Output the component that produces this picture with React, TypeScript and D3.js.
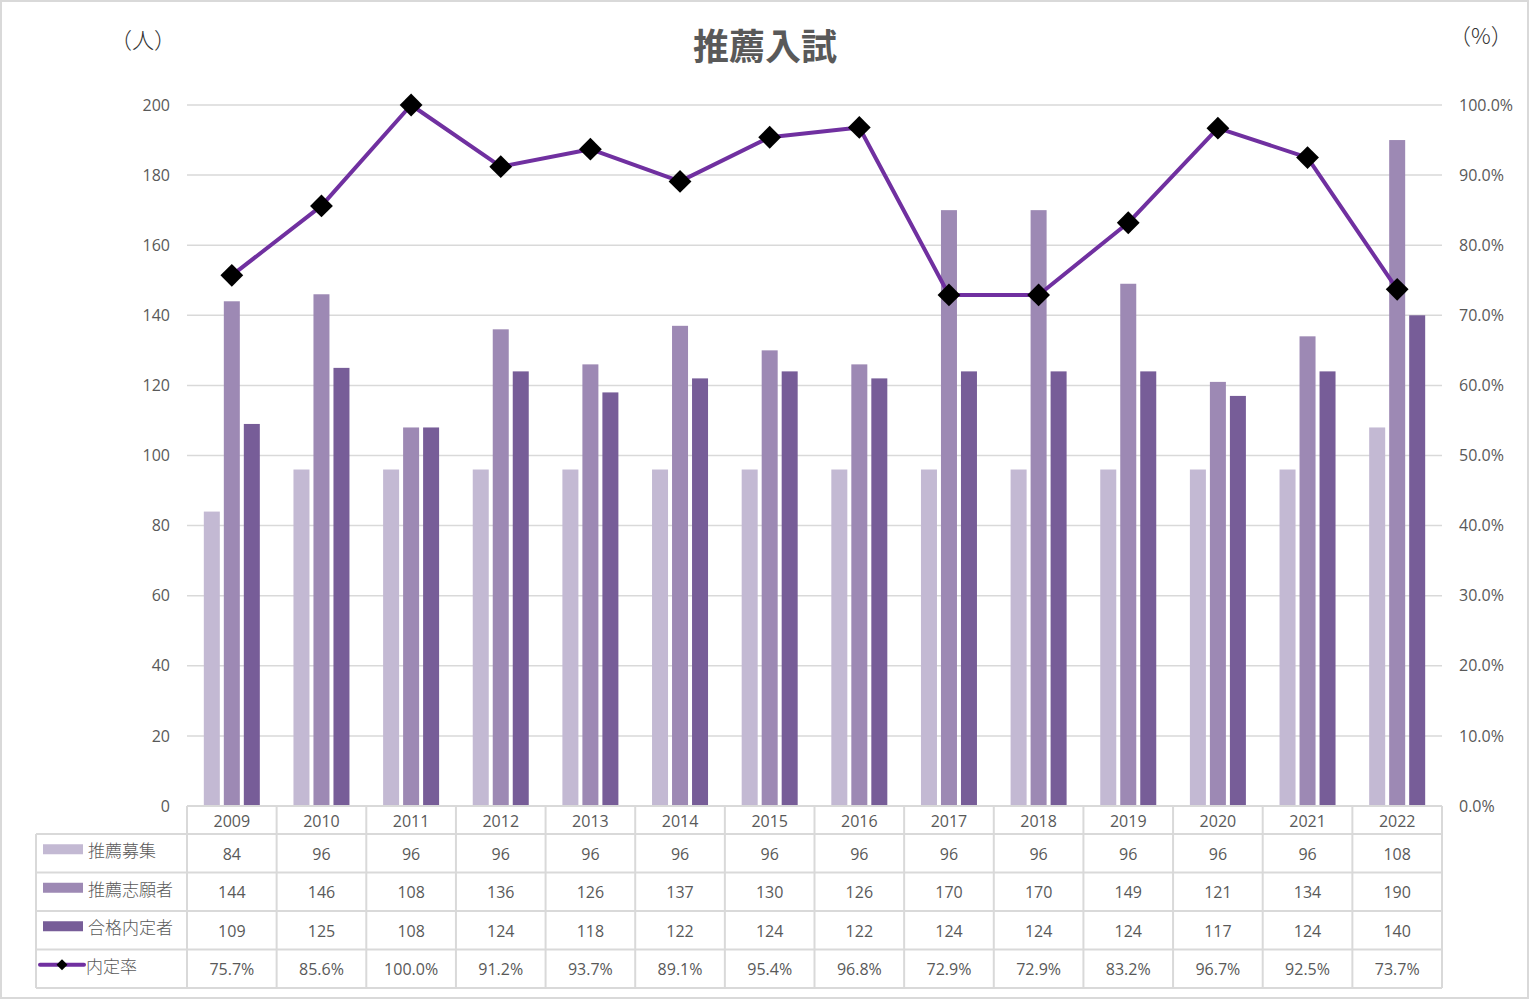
import React, { useEffect, useRef } from 'react';
import * as d3 from 'd3';

const years = ['2009', '2010', '2011', '2012', '2013', '2014', '2015', '2016', '2017', '2018', '2019', '2020', '2021', '2022'];
const boshu = [84, 96, 96, 96, 96, 96, 96, 96, 96, 96, 96, 96, 96, 108];
const shigan = [144, 146, 108, 136, 126, 137, 130, 126, 170, 170, 149, 121, 134, 190];
const gokaku = [109, 125, 108, 124, 118, 122, 124, 122, 124, 124, 124, 117, 124, 140];
const naitei = [75.7, 85.6, 100.0, 91.2, 93.7, 89.1, 95.4, 96.8, 72.9, 72.9, 83.2, 96.7, 92.5, 73.7];
const leftTicks = [0, 20, 40, 60, 80, 100, 120, 140, 160, 180, 200];
const rightTicks = [0, 10, 20, 30, 40, 50, 60, 70, 80, 90, 100];

const barSeries = [
  { name: '推薦募集', values: boshu, color: '#C3B9D3' },
  { name: '推薦志願者', values: shigan, color: '#9D89B4' },
  { name: '合格内定者', values: gokaku, color: '#775D98' },
];
const lineName = '内定率';

const FONT = "'Open Sans', 'Noto Sans CJK JP', sans-serif";
const CJK = "'Noto Sans CJK JP', sans-serif";
const GRID = '#D9D9D9';
const TEXT = '#595959';

export default function App() {
  const ref = useRef<SVGSVGElement>(null);

  useEffect(() => {
    const width = 1530;
    const height = 1000;
    const margin = { top: 105, bottom: 194, left: 187, right: 88 };
    const svg = d3.select(ref.current);
    svg.selectAll('*').remove();

    svg
      .append('rect')
      .attr('x', 1)
      .attr('y', 1)
      .attr('width', width - 3)
      .attr('height', height - 3)
      .attr('fill', '#fff')
      .attr('stroke', GRID)
      .attr('stroke-width', 2);

    const plotBottom = height - margin.bottom;

    const xScale = d3
      .scaleBand()
      .domain(years)
      .range([margin.left, width - margin.right])
      .padding(0);

    const yScale = d3.scaleLinear().domain([0, 200]).range([plotBottom, margin.top]);
    const y2Scale = d3.scaleLinear().domain([0, 100]).range([plotBottom, margin.top]);

    // gridlines
    svg
      .append('g')
      .selectAll('line')
      .data(leftTicks)
      .enter()
      .append('line')
      .attr('x1', margin.left)
      .attr('x2', width - margin.right)
      .attr('y1', (d) => yScale(d))
      .attr('y2', (d) => yScale(d))
      .attr('stroke', GRID)
      .attr('stroke-width', 1.5);

    // left axis labels
    svg
      .append('g')
      .selectAll('text')
      .data(leftTicks)
      .enter()
      .append('text')
      .attr('x', 170)
      .attr('y', (d) => yScale(d))
      .attr('dy', '0.35em')
      .attr('text-anchor', 'end')
      .attr('font-size', 16)
      .attr('font-family', FONT)
      .attr('fill', TEXT)
      .text((d) => d);

    // right axis labels
    svg
      .append('g')
      .selectAll('text')
      .data(rightTicks)
      .enter()
      .append('text')
      .attr('x', 1459)
      .attr('y', (d) => y2Scale(d))
      .attr('dy', '0.35em')
      .attr('font-size', 16)
      .attr('font-family', FONT)
      .attr('fill', TEXT)
      .text((d) => d.toFixed(1) + '%');

    // units
    svg
      .append('text')
      .attr('x', 176)
      .attr('y', 48)
      .attr('text-anchor', 'end')
      .attr('font-size', 22)
      .attr('font-weight', 300)
      .attr('font-family', CJK)
      .attr('fill', '#333')
      .text('（人）');
    svg
      .append('text')
      .attr('x', 1449)
      .attr('y', 44)
      .attr('font-size', 22)
      .attr('font-weight', 300)
      .attr('font-family', CJK)
      .attr('fill', '#333')
      .text('（%）');

    // title
    svg
      .append('text')
      .attr('x', 765)
      .attr('y', 60)
      .attr('text-anchor', 'middle')
      .attr('font-size', 36)
      .attr('font-weight', 'bold')
      .attr('font-family', CJK)
      .attr('fill', TEXT)
      .text('推薦入試');

    // bars
    const barW = 16;
    const barGap = 4;
    const inner = d3
      .scaleBand()
      .domain(barSeries.map((s) => s.name))
      .range([0, barW * 3 + barGap * 2])
      .paddingInner(barGap / (barW + barGap));

    barSeries.forEach((s) => {
      svg
        .append('g')
        .selectAll('rect')
        .data(s.values)
        .enter()
        .append('rect')
        .attr(
          'x',
          (d, i) =>
            (xScale(years[i]) as number) +
            xScale.bandwidth() / 2 -
            (barW * 3 + barGap * 2) / 2 +
            (inner(s.name) as number)
        )
        .attr('y', (d) => yScale(d))
        .attr('width', inner.bandwidth())
        .attr('height', (d) => plotBottom - yScale(d))
        .attr('fill', s.color);
    });

    // line
    const cx = (i: number) => (xScale(years[i]) as number) + xScale.bandwidth() / 2;
    const line = d3
      .line<number>()
      .x((d, i) => cx(i))
      .y((d) => y2Scale(d));

    svg
      .append('path')
      .datum(naitei)
      .attr('d', line)
      .attr('fill', 'none')
      .attr('stroke', '#7030A0')
      .attr('stroke-width', 4)
      .attr('stroke-linejoin', 'round');

    const diamond = d3.symbol().type(d3.symbolSquare).size(260);
    svg
      .append('g')
      .selectAll('path')
      .data(naitei)
      .enter()
      .append('path')
      .attr('d', diamond)
      .attr('transform', (d, i) => `translate(${cx(i)}, ${y2Scale(d)}) rotate(45)`)
      .attr('fill', '#000');

    // data table
    const rowH = [28, 38.5, 38.5, 38.5, 38.5];
    const rowY: number[] = [];
    let acc = plotBottom;
    for (const h of rowH) {
      rowY.push(acc);
      acc += h;
    }
    const tableBottom = acc;
    const tableLeft = 36;
    const table = svg.append('g');

    // horizontal lines
    table
      .append('line')
      .attr('x1', margin.left)
      .attr('x2', width - margin.right)
      .attr('y1', plotBottom)
      .attr('y2', plotBottom)
      .attr('stroke', GRID)
      .attr('stroke-width', 2);
    rowY.slice(1).concat([tableBottom]).forEach((y) => {
      table
        .append('line')
        .attr('x1', tableLeft)
        .attr('x2', width - margin.right)
        .attr('y1', y)
        .attr('y2', y)
        .attr('stroke', GRID)
        .attr('stroke-width', 2);
    });

    // vertical lines
    const xs = years.map((y) => xScale(y) as number).concat([width - margin.right]);
    xs.forEach((x) => {
      table
        .append('line')
        .attr('x1', x)
        .attr('x2', x)
        .attr('y1', plotBottom)
        .attr('y2', tableBottom)
        .attr('stroke', GRID)
        .attr('stroke-width', 2);
    });
    table
      .append('line')
      .attr('x1', tableLeft)
      .attr('x2', tableLeft)
      .attr('y1', rowY[1])
      .attr('y2', tableBottom)
      .attr('stroke', GRID)
      .attr('stroke-width', 2);

    // header years
    table
      .selectAll('text.year')
      .data(years)
      .enter()
      .append('text')
      .attr('class', 'year')
      .attr('x', (d) => (xScale(d) as number) + xScale.bandwidth() / 2)
      .attr('y', rowY[0] + rowH[0] / 2 + 1)
      .attr('dy', '0.35em')
      .attr('text-anchor', 'middle')
      .attr('font-size', 16)
      .attr('font-family', FONT)
      .attr('fill', TEXT)
      .text((d) => d);

    const rows = [
      ...barSeries.map((s) => ({ name: s.name, color: s.color, texts: s.values.map(String), isLine: false })),
      { name: lineName, color: '#7030A0', texts: naitei.map((v) => v.toFixed(1) + '%'), isLine: true },
    ];

    rows.forEach((r, ri) => {
      const y0 = rowY[ri + 1];
      const mid = y0 + rowH[ri + 1] / 2;
      table
        .selectAll(`text.v${ri}`)
        .data(r.texts)
        .enter()
        .append('text')
        .attr('class', `v${ri}`)
        .attr('x', (d, i) => cx(i))
        .attr('y', mid + 1)
        .attr('dy', '0.35em')
        .attr('text-anchor', 'middle')
        .attr('font-size', 16)
        .attr('font-family', FONT)
        .attr('fill', TEXT)
        .text((d) => d);

      if (r.isLine) {
        table
          .append('line')
          .attr('x1', 40)
          .attr('x2', 84)
          .attr('y1', mid - 4)
          .attr('y2', mid - 4)
          .attr('stroke', r.color)
          .attr('stroke-width', 4)
          .attr('stroke-linecap', 'round');
        table
          .append('path')
          .attr('d', d3.symbol().type(d3.symbolSquare).size(60))
          .attr('transform', `translate(62, ${mid - 4}) rotate(45)`)
          .attr('fill', '#000');
      } else {
        table
          .append('rect')
          .attr('x', 43)
          .attr('y', mid - 9)
          .attr('width', 40)
          .attr('height', 10)
          .attr('fill', r.color);
      }
      table
        .append('text')
        .attr('x', r.isLine ? 86 : 88)
        .attr('y', mid - 2)
        .attr('dy', '0.35em')
        .attr('font-size', 17)
        .attr('font-weight', 300)
        .attr('font-family', CJK)
        .attr('fill', TEXT)
        .text(r.name);
    });
  }, []);

  return (
    <svg
      ref={ref}
      width={1530}
      height={1000}
      style={{ display: 'block', position: 'absolute', left: 0, top: 0 }}
    />
  );
}
